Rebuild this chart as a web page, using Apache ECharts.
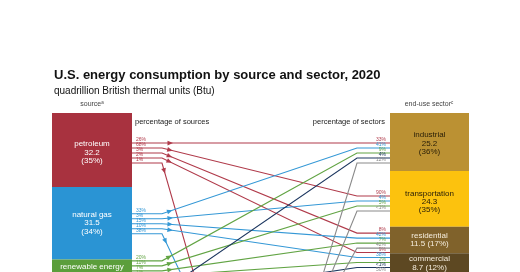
<!DOCTYPE html>
<html><head><meta charset="utf-8">
<script src="https://cdn.jsdelivr.net/npm/echarts@6/dist/echarts.min.js"></script>
<style>html,body{margin:0;padding:0;background:#fff}#c{width:520px;height:272px}</style>
</head><body><div id="c"></div>
<script>
// ---- data ----
const sources = ['petroleum', 'natural gas', 'renewable energy', 'coal', 'nuclear electric power'];
const sourceValues = [32.2, 31.5, 11.6, 9.2, 8.3];
const sourceShares = ['35%', '34%', '12%', '10%', '9%'];
const sectors = ['industrial', 'transportation', 'residential', 'commercial'];
const sectorValues = [25.2, 24.3, 11.5, 8.7];
const sectorShares = ['36%', '35%', '17%', '12%'];
// flows (source -> sector); 'electric power' is the electric power sector
const flowSource = ['petroleum','petroleum','petroleum','petroleum','petroleum',
  'natural gas','natural gas','natural gas','natural gas','natural gas',
  'renewable energy','renewable energy','renewable energy','renewable energy','renewable energy',
  'coal','coal','coal','nuclear electric power',
  'electric power','electric power','electric power','electric power'];
const flowTarget = ['industrial','transportation','residential','commercial','electric power',
  'industrial','transportation','residential','commercial','electric power',
  'industrial','transportation','residential','commercial','electric power',
  'industrial','commercial','electric power','electric power',
  'industrial','transportation','residential','commercial'];
const pctOfSource = ['26%','68%','3%','2%','1%',
  '33%','3%','15%','10%','38%',
  '20%','11%','7%','1%','61%',
  '9%','<1%','90%','100%',
  '','','',''];
const pctOfSector = ['33%','90%','8%','9%','',
  '41%','4%','42%','38%','',
  '9%','5%','7%','2%','',
  '4%','<1%','','',
  '12%','<1%','42%','50%'];

// ---- styles / layout ----
const FONT = '"Liberation Sans", Arial, sans-serif';
const srcColors = {'petroleum':'#a8323f','natural gas':'#2a94d4','renewable energy':'#5b9e3b','coal':'#1d3760','nuclear electric power':'#e26a22','electric power':'#808080'};
const lineColors = {'petroleum':'#b03a4a','natural gas':'#3498d6','renewable energy':'#62a444','coal':'#1d3760','nuclear electric power':'#e26a22','electric power':'#8a8a8a'};
const secColors = ['#bb9133','#fcc20e','#80622b','#5d4822'];
const secText = ['#2b2008','#2b2008','#f4ecdc','#f4ecdc'];
const L = {srcX0:52, srcX1:132, bendL:162, bendR:357, secX0:390, secX1:469, gap:5,
  epInX:210, epOutX:306, epTop:330,
  nudgeL:[3,0.5,-2,0,0], nudgeR:[11,4.6,0.5,-0.8],
  textNudgeL:[2.5,0,-2,0,0], textNudgeR:[1.5,3,0,0]};

const srcStart = sourceValues.map((v,i)=>sourceValues.slice(0,i).reduce((a,b)=>a+b,0));
const secStart = sectorValues.map((v,i)=>sectorValues.slice(0,i).reduce((a,b)=>a+b,0));

const barData = [];
sources.forEach((s,i)=>barData.push([0,i,srcStart[i],srcStart[i]+sourceValues[i]]));
sectors.forEach((s,i)=>barData.push([1,i,secStart[i],secStart[i]+sectorValues[i]]));

const flowData = flowSource.map((s,i)=>[i]);

function renderBar(params, api){
  const side = api.value(0), i = api.value(1), y0 = api.value(2), y1 = api.value(3);
  const x0 = side===0?L.srcX0:L.secX0, x1 = side===0?L.srcX1:L.secX1;
  const p0 = api.coord([x0,y0]), p1 = api.coord([x1,y1]);
  let fill, txt, tcol, nud;
  if(side===0){
    fill = srcColors[sources[i]]; tcol='#ffffff'; nud = L.textNudgeL[i];
    const v = sourceValues[i].toFixed(1);
    txt = (i<2) ? sources[i]+'\n'+v+'\n('+sourceShares[i]+')' : sources[i]+'\n'+v+' ('+sourceShares[i]+')';
  } else {
    fill = secColors[i]; tcol = secText[i]; nud = L.textNudgeR[i];
    const v = sectorValues[i].toFixed(1);
    txt = (i<2) ? sectors[i]+'\n'+v+'\n('+sectorShares[i]+')' : sectors[i]+'\n'+v+' ('+sectorShares[i]+')';
  }
  return {type:'group', children:[
    {type:'rect', shape:{x:p0[0], y:p0[1], width:p1[0]-p0[0], height:p1[1]-p0[1]}, style:{fill:fill}},
    {type:'text', style:{text:txt, x:(p0[0]+p1[0])/2, y:(p0[1]+p1[1])/2+nud, align:'center', verticalAlign:'middle',
      fontSize:8, lineHeight:8.3, fontFamily:FONT, fill:tcol}}
  ]};
}

function renderFlow(params, api){
  const k = api.value(0);
  const s = flowSource[k], t = flowTarget[k];
  const col = lineColors[s];
  let sx, bx, ys;
  const si = sources.indexOf(s);
  if(si>=0){
    const li = flowSource.slice(0,k).filter(v=>v===s).length;
    const n = flowSource.filter(v=>v===s).length;
    const c = api.coord([0, srcStart[si]+sourceValues[si]/2])[1];
    ys = c + L.nudgeL[si] + (li-(n-1)/2)*L.gap; sx = L.srcX1; bx = L.bendL;
  } else {
    const li = flowSource.slice(0,k).filter(v=>v===s).length;
    ys = L.epTop + li*L.gap; sx = L.epOutX; bx = L.epOutX;
  }
  let ex, ebx, ye;
  const ti = sectors.indexOf(t);
  if(ti>=0){
    const ri = flowTarget.slice(0,k).filter(v=>v===t).length;
    const n = flowTarget.filter(v=>v===t).length;
    const c = api.coord([0, secStart[ti]+sectorValues[ti]/2])[1];
    ye = c + L.nudgeR[ti] + (ri-(n-1)/2)*L.gap; ex = L.secX0; ebx = L.bendR;
  } else {
    const ri = flowTarget.slice(0,k).filter(v=>v===t).length;
    ye = L.epTop + ri*L.gap; ex = L.epInX; ebx = L.epInX;
  }
  const dx = ebx-bx, dy = ye-ys, len = Math.sqrt(dx*dx+dy*dy);
  const ux = dx/len, uy = dy/len, nx = -uy, ny = ux;
  const tipD = 11, tx = bx+ux*tipD, ty = ys+uy*tipD;
  const ah = 5.5, aw = 2.4;
  const children = [
    {type:'polyline', shape:{points:[[sx,ys],[bx,ys],[ebx,ye],[ex,ye]]}, style:{stroke:col, lineWidth:1.1, fill:null}},
    {type:'polygon', shape:{points:[[tx,ty],[tx-ux*ah+nx*aw,ty-uy*ah+ny*aw],[tx-ux*ah-nx*aw,ty-uy*ah-ny*aw]]}, style:{fill:col}}
  ];
  if(pctOfSource[k] && si>=0){
    children.push({type:'text', style:{text:pctOfSource[k], x:L.srcX1+4, y:ys-0.6, align:'left', verticalAlign:'bottom', fontSize:5, fontFamily:FONT, fill:col}});
  }
  if(pctOfSector[k] && ti>=0){
    children.push({type:'text', style:{text:pctOfSector[k], x:L.secX0-4, y:ye-0.6, align:'right', verticalAlign:'bottom', fontSize:5, fontFamily:FONT, fill:col}});
  }
  return {type:'group', children};
}

const chart = echarts.init(document.getElementById('c'), null, {renderer:'canvas'});
chart.setOption({
  animation:false,
  backgroundColor:'#ffffff',
  title:{text:'U.S. energy consumption by source and sector, 2020', subtext:'quadrillion British thermal units (Btu)',
    left:49, top:64, itemGap:4,
    textStyle:{fontSize:13, fontWeight:'bold', color:'#111', fontFamily:FONT},
    subtextStyle:{fontSize:10, color:'#111', fontFamily:FONT}},
  grid:{left:0, top:113, right:0, bottom:0},
  xAxis:{type:'value', min:0, max:520, show:false},
  yAxis:{type:'value', min:0, max:159/2.3, inverse:true, show:false},
  graphic:[
    {type:'text', x:92, y:104, style:{text:'source{s|a}', align:'center', verticalAlign:'middle', fontSize:7, fontFamily:FONT, fill:'#444',
      rich:{s:{fontSize:4.5, fill:'#444', padding:[0,0,3,0]}}}},
    {type:'text', x:429, y:104, style:{text:'end-use sector{s|c}', align:'center', verticalAlign:'middle', fontSize:7, fontFamily:FONT, fill:'#444',
      rich:{s:{fontSize:4.5, fill:'#444', padding:[0,0,3,0]}}}},
    {type:'text', x:135, y:121.5, style:{text:'percentage of sources', align:'left', verticalAlign:'middle', fontSize:7.5, fontFamily:FONT, fill:'#222'}},
    {type:'text', x:385, y:121.5, style:{text:'percentage of sectors', align:'right', verticalAlign:'middle', fontSize:7.5, fontFamily:FONT, fill:'#222'}}
  ],
  series:[
    {type:'custom', renderItem:renderBar, data:barData, silent:true, z:2},
    {type:'custom', renderItem:renderFlow, data:flowData, silent:true, z:3}
  ]
});
</script></body></html>
